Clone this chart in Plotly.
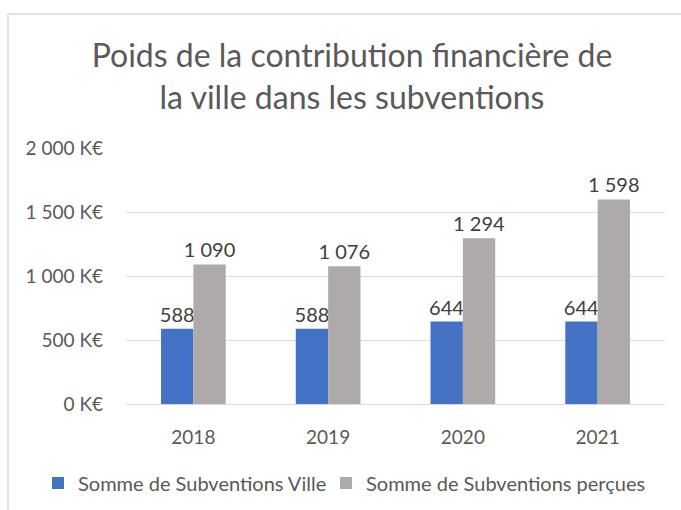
import plotly.graph_objects as go

years = ["2018", "2019", "2020", "2021"]
ville = [588, 588, 644, 644]
percues = [1090, 1076, 1294, 1598]
tick_vals = [0, 500, 1000, 1500, 2000]
tick_text = [f"{v:,}".replace(",", " ") + " K€" for v in tick_vals]

FONT = "Lato, 'Open Sans', sans-serif"

fig = go.Figure()
fig.add_trace(go.Bar(
    x=years, y=ville, name="Somme de Subventions Ville",
    marker=dict(color="#4472C4", line=dict(width=0)),
    texttemplate="%{y:,d}", textposition="outside", constraintext="none",
    textfont=dict(size=20, color="#404040", family=FONT),
    cliponaxis=False, legend="legend",
))
fig.add_trace(go.Bar(
    x=years, y=percues, name="Somme de Subventions perçues",
    marker=dict(color="#AEAAAA", line=dict(width=0)),
    texttemplate="%{y:,d}", textposition="outside", constraintext="none",
    textfont=dict(size=20, color="#404040", family=FONT),
    cliponaxis=False, legend="legend2",
))

legend_common = dict(
    orientation="h", xref="container", yref="container",
    xanchor="left", y=1 - 483 / 510, yanchor="middle",
    font=dict(size=20, color="#595959", family=FONT),
    itemclick=False, bgcolor="rgba(0,0,0,0)", borderwidth=0,
)

fig.update_layout(
    width=681, height=510,
    margin=dict(l=126, r=16, t=148, b=106, autoexpand=False),
    paper_bgcolor="white", plot_bgcolor="white",
    separators=", ",
    barmode="group", bargap=0.52, bargroupgap=0,
    font=dict(family=FONT, color="#595959"),
    title=dict(
        text="Poids de la contribution financière de<br>la ville dans les subventions",
        x=352 / 681, xanchor="center", xref="container",
        y=1 - 67 / 510, yanchor="middle", yref="container",
        font=dict(size=32, color="#595959", family=FONT),
    ),
    xaxis=dict(
        showgrid=False, showline=False, zeroline=False,
        tickfont=dict(size=19, color="#595959"),
        ticklabelstandoff=20,
    ),
    yaxis=dict(
        range=[0, 2000], tickmode="array", tickvals=tick_vals, ticktext=tick_text,
        showgrid=True, gridcolor="#D9D9D9", gridwidth=1,
        zeroline=True, zerolinecolor="#D9D9D9", zerolinewidth=1,
        showline=False,
        tickfont=dict(size=19, color="#595959"),
        ticklabelstandoff=22,
    ),
    showlegend=True,
    legend=dict(x=38 / 681, **legend_common),
    legend2=dict(x=326 / 681, **legend_common),
    shapes=[
        dict(type="rect", xref="paper", yref="paper",
             x0=(8 - 126) / 539, x1=(720 - 126) / 539,
             y0=(404 - 540) / 256, y1=(404 - 14) / 256,
             line=dict(color="#D9D9D9", width=1.5), fillcolor="rgba(0,0,0,0)",
             layer="below"),
    ],
)

fig.write_html("out.html")
